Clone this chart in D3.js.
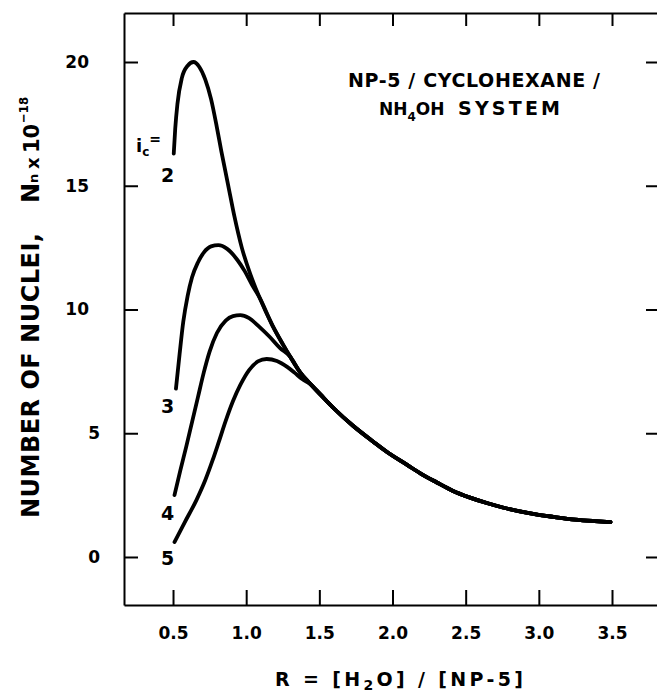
<!DOCTYPE html>
<html>
<head>
<meta charset="utf-8">
<script src="https://cdn.jsdelivr.net/npm/d3@7"></script>
<style>
  body { margin: 0; background: #fff; }
  svg { display: block; }
  text { font-family: "DejaVu Sans", sans-serif; font-weight: bold; fill: #000; }
</style>
</head>
<body>
<svg id="chart" width="657" height="694"></svg>
<script>
// Axis ticks
const xTicks = [0.5, 1.0, 1.5, 2.0, 2.5, 3.0, 3.5];
const xTickLabels = ["0.5", "1.0", "1.5", "2.0", "2.5", "3.0", "3.5"];
const yTicks = [0, 5, 10, 15, 20];
const yTickLabels = ["0", "5", "10", "15", "20"];

// Number of nuclei (x 10^-18) vs R = [H2O]/[NP-5], for each critical size ic.
// Rising branches, up to where each curve joins the shared envelope.
const ic2Head = [[0.505,16.3],[0.515,17.3],[0.53,18.3],[0.56,19.35],[0.60,19.85],[0.64,20.0],
  [0.68,19.8],[0.72,19.3],[0.76,18.5],[0.80,17.35],[0.83,16.4],[0.876,15.05],[0.92,13.75],
  [0.97,12.5],[1.03,11.4]];
const ic3Head = [[0.52,6.8],[0.545,8.2],[0.57,9.5],[0.60,10.55],[0.63,11.3],[0.67,11.9],
  [0.71,12.3],[0.76,12.55],[0.81,12.6],[0.87,12.45],[0.94,12.0],[0.99,11.55],[1.04,11.0]];
const ic4Head = [[0.51,2.5],[0.55,3.5],[0.59,4.45],[0.63,5.45],[0.67,6.45],[0.71,7.45],
  [0.75,8.3],[0.80,9.05],[0.86,9.55],[0.91,9.73],[0.96,9.77],[1.02,9.65],[1.09,9.3],
  [1.16,8.9],[1.23,8.45]];
const ic5Head = [[0.51,0.6],[0.58,1.4],[0.66,2.3],[0.72,3.1],[0.77,3.9],[0.81,4.6],
  [0.86,5.5],[0.91,6.3],[0.96,6.95],[1.02,7.55],[1.08,7.9],[1.14,8.0],[1.21,7.92],
  [1.28,7.68],[1.33,7.45],[1.38,7.2]];
// Shared envelope at larger R
const envelope = [[1.09,10.5],[1.18,9.35],[1.25,8.6],[1.30,8.1],[1.37,7.45],[1.44,6.98],
  [1.505,6.58],[1.60,6.0],[1.73,5.3],[1.87,4.65],[1.96,4.25],[2.10,3.72],[2.19,3.38],
  [2.30,3.02],[2.41,2.68],[2.53,2.4],[2.65,2.17],[2.76,1.99],[2.87,1.84],[2.98,1.72],
  [3.10,1.62],[3.25,1.51],[3.38,1.45],[3.49,1.41]];
const icValues = ["2", "3", "4", "5"];
const heads = [ic2Head, ic3Head, ic4Head, ic5Head];

const svg = d3.select("#chart");
const plot = { left: 124, right: 660, top: 13, bottom: 605 };

const x = d3.scaleLinear().domain([0.165, 3.828]).range([plot.left, plot.right]);
const y = d3.scaleLinear().domain([-1.94, 21.98]).range([plot.bottom, plot.top]);

// Frame with inward ticks on all four sides
function styleAxis(g) {
  g.selectAll("path.domain").attr("stroke", "#000").attr("stroke-width", 2);
  g.selectAll(".tick line").attr("stroke", "#000").attr("stroke-width", 2);
}
function styleLabels(g) {
  g.selectAll(".tick text").attr("font-size", 17).attr("font-family", "DejaVu Sans")
    .attr("font-weight", "bold").attr("fill", "#000");
}

svg.append("g").attr("transform", `translate(0,${plot.bottom})`)
  .call(d3.axisBottom(x).tickValues(xTicks).tickSize(-15).tickSizeOuter(0)
    .tickPadding(22).tickFormat((d, i) => xTickLabels[i]))
  .call(styleAxis)
  .call(styleLabels);

svg.append("g").attr("transform", `translate(0,${plot.top})`)
  .call(d3.axisTop(x).tickValues(xTicks).tickSize(-13).tickSizeOuter(0).tickFormat(""))
  .call(styleAxis);

svg.append("g").attr("transform", `translate(${plot.left},0)`)
  .call(d3.axisLeft(y).tickValues(yTicks).tickSize(-14).tickSizeOuter(0)
    .tickFormat((d, i) => yTickLabels[i]))
  .call(styleAxis)
  .call(styleLabels)
  .call(g => g.selectAll(".tick text")
    .attr("x", function () { return this.textContent.length > 1 ? -35 : -24; }));

svg.append("g").attr("transform", `translate(${plot.right},0)`)
  .call(d3.axisRight(y).tickValues(yTicks).tickSize(-14).tickSizeOuter(0).tickFormat(""))
  .call(styleAxis);

// Curves
const line = d3.line().x(d => x(d[0])).y(d => y(d[1])).curve(d3.curveMonotoneX);
heads.forEach(h => {
  const lastX = h[h.length - 1][0];
  const pts = h.concat(envelope.filter(p => p[0] > lastX + 0.04));
  svg.append("path").datum(pts)
    .attr("d", line)
    .attr("fill", "none")
    .attr("stroke", "#000")
    .attr("stroke-width", 3.8)
    .attr("stroke-linecap", "round")
    .attr("stroke-linejoin", "round");
});

// Curve labels
const ic = svg.append("text").attr("x", 136).attr("y", 152);
ic.append("tspan").attr("font-size", 18).text("i");
ic.append("tspan").attr("font-size", 12).attr("dy", 4).text("c");
ic.append("tspan").attr("font-size", 14).attr("dy", -12).text("=");

const labelY = [182, 413, 520, 565];
icValues.forEach((v, i) => {
  svg.append("text").attr("x", 161).attr("y", labelY[i]).attr("font-size", 19).text(v);
});

// System annotation
svg.append("text").attr("x", 348).attr("y", 87).attr("font-size", 19)
  .attr("textLength", 252).attr("lengthAdjust", "spacing")
  .text("NP-5 / CYCLOHEXANE /");
const sys = svg.append("text").attr("x", 379).attr("y", 115).attr("font-size", 17);
sys.append("tspan").text("NH");
sys.append("tspan").attr("font-size", 12).attr("dy", 6).text("4");
sys.append("tspan").attr("dy", -6).text("OH");
svg.append("text").attr("x", 458).attr("y", 115).attr("font-size", 19)
  .attr("textLength", 102).attr("lengthAdjust", "spacing").text("SYSTEM");

// X axis title
const xt = svg.append("text").attr("x", 275).attr("y", 686).attr("font-size", 19);
xt.append("tspan").text("R = [H");
xt.append("tspan").attr("font-size", 14).attr("dy", 4).text("2");
xt.append("tspan").attr("dy", -4).text("O] / [NP-5]");
xt.attr("textLength", 248).attr("lengthAdjust", "spacing");

// Y axis title, reading upward
const yt = svg.append("g").attr("transform", "translate(39,518) rotate(-90)");
yt.append("text").attr("x", 0).attr("y", 0).attr("font-size", 24)
  .attr("textLength", 285).attr("lengthAdjust", "spacing").text("NUMBER OF NUCLEI,");
const nn = yt.append("text").attr("x", 315).attr("y", 0).attr("font-size", 24);
nn.append("tspan").text("N");
nn.append("tspan").attr("font-size", 13).attr("dy", -1).text("n");
yt.append("text").attr("x", 349).attr("y", 0).attr("font-size", 18).text("x");
yt.append("text").attr("x", 365).attr("y", 0).attr("font-size", 21).text("10");
yt.append("text").attr("x", 395).attr("y", -11).attr("font-size", 13)
  .attr("textLength", 26).attr("lengthAdjust", "spacingAndGlyphs").text("−18");
</script>
</body>
</html>
